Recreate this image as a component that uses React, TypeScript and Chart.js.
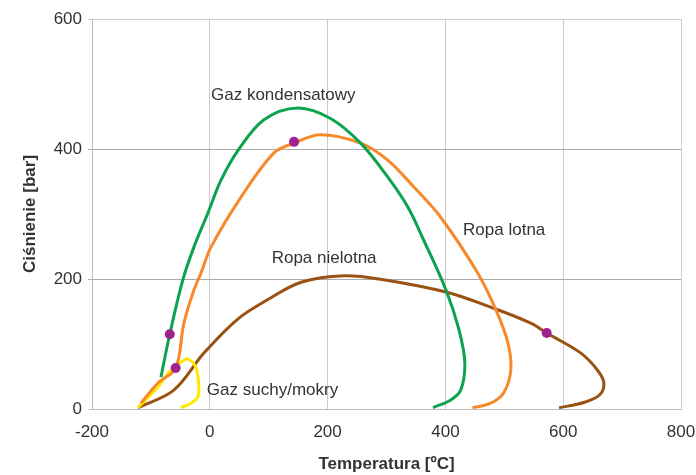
import React, { useEffect, useRef } from "react";
import { Chart, registerables } from "chart.js";

Chart.register(...registerables);

// Gaz kondensatowy (green)
const greenX = [-83, -68, -46, -27, -3, 19, 48, 92, 149, 205, 256, 302, 336, 363, 401, 423, 433, 426, 409, 379];
const greenY = [49, 115, 198, 249, 302, 352, 398, 445, 463, 447, 409, 357, 311, 260, 183, 122, 71, 29, 14, 2];
// Ropa lotna (orange)
const orangeX = [-117, -88, -58, -44, -27, -15, 2, 53, 109, 143, 188, 256, 302, 346, 392, 455, 486, 506, 511, 499, 477, 446];
const orangeY = [9, 40, 63, 132, 183, 209, 249, 326, 394, 409, 422, 409, 383, 342, 295, 209, 152, 102, 60, 25, 9, 2];
// Ropa nielotna (brown)
const brownX = [-122, -61, -10, 47, 98, 155, 228, 295, 401, 482, 545, 572, 630, 658, 669, 662, 635, 593];
const brownY = [2, 29, 86, 138, 168, 195, 205, 199, 180, 155, 132, 117, 86, 60, 40, 22, 10, 2];
// Gaz suchy/mokry (yellow)
const yellowX = [-122, -88, -66, -44, -37, -24, -19, -20, -32, -49];
const yellowY = [2, 34, 60, 75, 77, 65, 40, 19, 9, 2];
// Critical points
const dotX = [-68, -58, 143, 572];
const dotY = [115, 63, 411, 117];

const labelTexts = ["Gaz kondensatowy", "Ropa lotna", "Ropa nielotna", "Gaz suchy/mokry"];
const labelX = [2, 430, 105, -5];
const labelY = [483, 275, 232, 29];

const xTicks = [-200, 0, 200, 400, 600, 800];
const yTicks = [0, 200, 400, 600];

const FONT = "'Liberation Sans', Arial, sans-serif";

const pts = (xs: number[], ys: number[]) => xs.map((x, i) => ({ x, y: ys[i] }));

export default function App() {
  const ref = useRef<HTMLCanvasElement>(null);
  useEffect(() => {
    document.body.style.margin = "0";
    const labelPlugin = {
      id: "curveLabels",
      afterDatasetsDraw(chart: any) {
        const { ctx, scales } = chart;
        ctx.save();
        ctx.font = `17px ${FONT}`;
        ctx.fillStyle = "#333333";
        ctx.textAlign = "left";
        ctx.textBaseline = "middle";
        labelTexts.forEach((t, i) => {
          ctx.fillText(t, scales.x.getPixelForValue(labelX[i]), scales.y.getPixelForValue(labelY[i]));
        });
        ctx.restore();
      },
    };
    const line = (label: string, xs: number[], ys: number[], color: string, order: number) => ({
      label,
      data: pts(xs, ys),
      showLine: true,
      borderColor: color,
      backgroundColor: color,
      borderWidth: 3,
      pointRadius: 0,
      tension: 0.35,
      fill: false,
      order,
    });
    const chart = new Chart(ref.current!, {
      type: "scatter",
      data: {
        datasets: [
          line("Ropa nielotna", brownX, brownY, "#995212", 4),
          line("Gaz suchy/mokry", yellowX, yellowY, "#FFE800", 3),
          line("Ropa lotna", orangeX, orangeY, "#F7892B", 2),
          line("Gaz kondensatowy", greenX, greenY, "#0BA34E", 1),
          {
            label: "dots",
            data: pts(dotX, dotY),
            showLine: false,
            pointRadius: 5,
            pointBackgroundColor: "#A0228F",
            pointBorderWidth: 0,
            borderColor: "#A0228F",
            order: 0,
          } as any,
        ],
      },
      options: {
        animation: false,
        responsive: false,
        maintainAspectRatio: false,
        layout: { padding: { top: 19, right: 15, left: 0, bottom: 0 } },
        plugins: { legend: { display: false }, tooltip: { enabled: false } },
        scales: {
          x: {
            type: "linear",
            min: -200,
            max: 800,
            afterBuildTicks: (s: any) => {
              s.ticks = xTicks.map((v) => ({ value: v }));
            },
            afterFit: (s: any) => {
              s.height = 66;
              s.paddingLeft = 0;
              s.paddingRight = 0;
            },
            ticks: { color: "#333333", font: { family: FONT, size: 17 }, padding: 13, maxRotation: 0 },
            grid: { color: "#cccccc", lineWidth: 1, tickLength: 0 },
            border: { color: "#bbbbbb" },
            title: {
              display: true,
              text: "Temperatura [ºC]",
              color: "#333333",
              font: { family: FONT, size: 17, weight: "bold" },
              padding: { top: 4, bottom: 0 },
            },
          },
          y: {
            type: "linear",
            min: 0,
            max: 600,
            afterBuildTicks: (s: any) => {
              s.ticks = yTicks.map((v) => ({ value: v }));
            },
            afterFit: (s: any) => {
              s.width = 92;
              s.paddingTop = 0;
              s.paddingBottom = 0;
            },
            ticks: { color: "#333333", font: { family: FONT, size: 17 }, padding: 6 },
            grid: {
              color: (c: any) => (c.tick && (c.tick.value === 0 || c.tick.value === 600) ? "#cccccc" : "#aaaaaa"),
              lineWidth: 1,
              tickLength: 4,
            },
            border: { color: "#bbbbbb" },
            title: {
              display: true,
              text: "Ciśnienie [bar]",
              color: "#333333",
              font: { family: FONT, size: 17, weight: "bold" },
              padding: { top: 20, bottom: 0 },
            },
          },
        },
      },
      plugins: [labelPlugin],
    } as any);
    return () => chart.destroy();
  }, []);
  return (
    <div style={{ width: 696, height: 475, background: "#ffffff" }}>
      <canvas ref={ref} width={696} height={475} />
    </div>
  );
}
